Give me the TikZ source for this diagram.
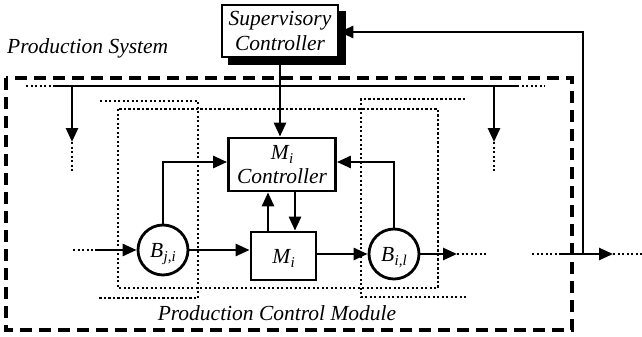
\documentclass[tikz,border=0pt]{standalone}
\usepackage{fontspec}
\setmainfont{Liberation Serif}
\usetikzlibrary{arrows.meta,backgrounds}
\newcommand\lbl[2]{#1\kern0.3pt\raisebox{-0.22em}[0pt][0pt]{\fontsize{15}{15}\selectfont #2}}
\tikzset{
  big/.style={font=\fontsize{21.5}{24.5}\selectfont\itshape},
  blk/.style={draw, line width=2.8pt, fill=white, big, inner sep=0pt, align=center},
  buf/.style={draw, circle, line width=2.8pt, fill=white, big, minimum size=50pt, inner sep=0pt},
  arr/.style={line width=2.7pt, -{Triangle[length=14pt,width=12pt]}},
  ln/.style={line width=2.7pt},
  dots/.style={line width=2.5pt, dash pattern=on 2.3pt off 2.2pt},
  dashline/.style={line width=3.4pt, dash pattern=on 12pt off 7pt},
  shadowbox/.style={fill=black},
}
\begin{document}
\begin{tikzpicture}[x=1pt,y=-1pt]
\useasboundingbox (0,0) rectangle (642,337);
% outer production system
\draw[dashline] (6,78) rectangle (572,330);
\node[big, anchor=base west, inner sep=0pt] (ps) at (7,53) {Production System};
% supervisory controller
\node[blk, minimum width=116pt, minimum height=52pt] (sup) at (280,31) {Supervisory\\Controller};
\begin{scope}[on background layer]
\fill[shadowbox] ([shift={(7,7)}]sup.north west) rectangle ([shift={(7,7)}]sup.south east);
\end{scope}
% top bus
\coordinate (busL0) at (26,86);
\coordinate (busL) at (53,86);
\coordinate (busR) at (517,86);
\coordinate (busR0) at (545,86);
\draw[dots] (busL0) -- (busL);
\draw[ln] (busL) -- (busR);
\draw[dots] (busR) -- (busR0);
\coordinate (dl0) at (72,86);
\coordinate (dl1) at (72,142);
\coordinate (dl2) at (72,172);
\coordinate (dr0) at (494,86);
\coordinate (dr1) at (494,142);
\coordinate (dr2) at (494,172);
\draw[arr] (dl0) -- (dl1);
\draw[dots] (dl1) -- (dl2);
\draw[arr] (dr0) -- (dr1);
\draw[dots] (dr1) -- (dr2);
% dotted module boxes
\draw[dots] (118,109) rectangle (438,288);
\draw[dots] (100,101) -- (198,101) -- (198,298) -- (98,298);
\draw[dots] (465,99) -- (361,99) -- (361,297) -- (467,297);
% blocks
\node[blk, minimum width=107pt, minimum height=53pt] (ctrl) at (282,164.5)
  {\lbl{M}{i}\\Controller};
\node[blk, minimum width=65pt, minimum height=48pt] (mi) at (283.5,256) {\lbl{M}{i}};
\node[buf] (bji) at (163,250) {\lbl{B}{j,i}};
\node[buf] (bil) at (394,254) {\lbl{B}{i,l}};
% supervisory to controller
\draw[arr] (sup.south -| 280,0) -- (ctrl.north -| 280,0);
% buffers to controller
\draw[arr] (bji.north) |- (ctrl.west |- 0,162);
\draw[arr] (bil.north) |- (ctrl.east |- 0,162);
% controller <-> machine
\draw[arr] (mi.north -| 268,0) -- (ctrl.south -| 268,0);
\draw[arr] (ctrl.south -| 295,0) -- (mi.north -| 295,0);
% material flow
\coordinate (in0) at (73,250);
\coordinate (in1) at (95,250);
\draw[dots] (in0) -- (in1);
\draw[arr] (in1) -- (bji.west);
\draw[arr] (bji.east) -- (mi.west |- bji.east);
\draw[arr] (mi.east |- bil.west) -- (bil.west);
\coordinate (o1) at (457,254);
\coordinate (o2) at (487,254);
\draw[arr] (bil.east) -- (o1);
\draw[dots] (o1) -- (o2);
% right output and feedback
\coordinate (r0) at (532,254);
\coordinate (r1) at (560,254);
\coordinate (r2) at (613,254);
\coordinate (r3) at (642,254);
\coordinate (fb0) at (583,254);
\coordinate (fb1) at (583,32);
\draw[dots] (r0) -- (r1);
\draw[arr] (r1) -- (r2);
\draw[dots] (r2) -- (r3);
\draw[arr] (fb0) -- (fb1) -- (sup.east |- fb1);
% module label
\node[big, anchor=base, inner sep=0pt] (pcm) at (277,320) {Production Control Module};
\end{tikzpicture}
\end{document}
